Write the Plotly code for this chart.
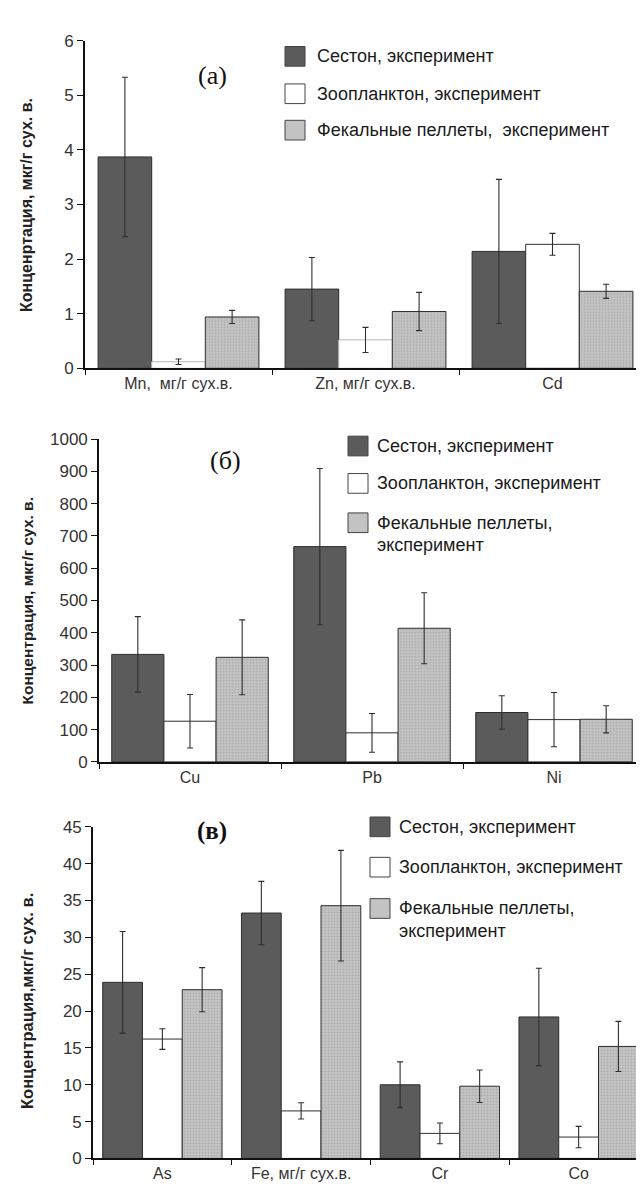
import plotly.graph_objects as go

W, H = 644, 1187

# ---------------- data ----------------
series_names = ["Сестон, эксперимент", "Зоопланктон, эксперимент", "Фекальные пеллеты,  эксперимент"]

cats_a = ["Mn,  мг/г сух.в.", "Zn, мг/г сух.в.", "Cd"]
seston_a = [3.87, 1.45, 2.14]
seston_a_err = [1.46, 0.58, 1.32]
zoo_a = [0.12, 0.52, 2.27]
zoo_a_err = [0.05, 0.23, 0.20]
fec_a = [0.94, 1.04, 1.41]
fec_a_err = [0.12, 0.35, 0.13]

cats_b = ["Cu", "Pb", "Ni"]
seston_b = [333, 667, 153]
seston_b_err = [117, 242, 52]
zoo_b = [126, 90, 131]
zoo_b_err = [83, 60, 84]
fec_b = [324, 414, 132]
fec_b_err = [116, 110, 42]

cats_c = ["As", "Fe, мг/г сух.в.", "Cr", "Co"]
seston_c = [23.9, 33.3, 10.0, 19.2]
seston_c_err = [6.9, 4.3, 3.1, 6.6]
zoo_c = [16.2, 6.45, 3.4, 2.9]
zoo_c_err = [1.4, 1.1, 1.4, 1.45]
fec_c = [22.9, 34.3, 9.8, 15.2]
fec_c_err = [3.0, 7.5, 2.2, 3.4]

ytitle_a = "Конценртация, мкг/г сух. в."
ytitle_b = "Концентрация, мкг/г сух. в."
ytitle_c = "Концентрация,мкг/г сух. в."
panel_titles = ["(а)", "(б)", "(в)"]

# ---------------- styles ----------------
DARK = "#5b5b5b"
LINE = "#2e2e2e"
FEC = "#c3c3c3"
SANS = "Liberation Sans, Arial, sans-serif"
SERIF = "Liberation Serif, Times New Roman, serif"


def px(x):
    return x / W


def py(y):
    return 1 - y / H


fig = go.Figure()


def add_panel(idx, cats, s, se, z, ze, f, fe, zoo_line=None):
    xa = "x" if idx == 1 else f"x{idx}"
    ya = "y" if idx == 1 else f"y{idx}"
    err = dict(type="data", visible=True, color=LINE, thickness=1.1, width=3)
    fig.add_trace(go.Bar(x=cats, y=s, xaxis=xa, yaxis=ya, showlegend=False,
                         marker=dict(color=DARK, line=dict(color=LINE, width=1)),
                         error_y=dict(array=se, **err)))
    fig.add_trace(go.Bar(x=cats, y=z, xaxis=xa, yaxis=ya, showlegend=False,
                         marker=dict(color="white",
                                     line=dict(color=zoo_line if zoo_line else LINE, width=1)),
                         error_y=dict(array=ze, **err)))
    fig.add_trace(go.Bar(x=cats, y=f, xaxis=xa, yaxis=ya, showlegend=False,
                         marker=dict(color=FEC, line=dict(color=LINE, width=1),
                                     pattern=dict(shape=".", fgcolor="#8f8f8f", bgcolor=FEC,
                                                  size=3, solidity=0.25)),
                         error_y=dict(array=fe, **err)))


add_panel(1, cats_a, seston_a, seston_a_err, zoo_a, zoo_a_err, fec_a, fec_a_err,
          zoo_line=["#b8b8b8", "#b8b8b8", LINE])
add_panel(2, cats_b, seston_b, seston_b_err, zoo_b, zoo_b_err, fec_b, fec_b_err)
add_panel(3, cats_c, seston_c, seston_c_err, zoo_c, zoo_c_err, fec_c, fec_c_err)

# axes geometry (pixels)
panels = [
    dict(x0=77, x1=638, y0=24, y1=357, rng=[0, 6], dtick=1),
    dict(x0=91, x1=637, y0=429, y1=757, rng=[0, 1000], dtick=100),
    dict(x0=85, x1=640, y0=823, y1=1160, rng=[0, 45], dtick=5),
]

layout_axes = {}
for i, p in enumerate(panels, start=1):
    xk = "xaxis" if i == 1 else f"xaxis{i}"
    yk = "yaxis" if i == 1 else f"yaxis{i}"
    ya = "y" if i == 1 else f"y{i}"
    xa = "x" if i == 1 else f"x{i}"
    layout_axes[xk] = dict(domain=[px(p["x0"]), px(p["x1"])], anchor=ya,
                           showline=True, linecolor="#111", linewidth=1.6,
                           ticks="outside", tickson="boundaries", ticklen=5,
                           tickcolor="#111", tickwidth=1.3,
                           showgrid=False, zeroline=False,
                           tickfont=dict(size=16, color="#333", family=SANS))
    layout_axes[yk] = dict(domain=[py(p["y1"]), py(p["y0"])], anchor=xa,
                           range=p["rng"], dtick=p["dtick"],
                           showline=True, linecolor="#111", linewidth=1.6,
                           ticks="outside", ticklen=6, tickcolor="#111", tickwidth=1.3,
                           showgrid=False, zeroline=False,
                           tickfont=dict(size=17, color="#333", family=SANS))

fig.update_layout(**layout_axes)

annotations = []
shapes = []

# y-axis titles
for txt, yc, size in [(ytitle_a, 191, 16), (ytitle_b, 594, 15.5), (ytitle_c, 1000, 16.5)]:
    annotations.append(dict(x=px(19), y=py(yc), xref="paper", yref="paper", text=txt,
                            textangle=-90, showarrow=False, xanchor="center", yanchor="middle",
                            font=dict(size=size, color="#222", family=SANS, weight="bold")))

# panel titles
annotations.append(dict(x=px(188), y=py(43), xref="paper", yref="paper", text=panel_titles[0],
                        showarrow=False, font=dict(size=26, color="#111", family=SERIF)))
annotations.append(dict(x=px(200), y=py(451), xref="paper", yref="paper", text=panel_titles[1],
                        showarrow=False, font=dict(size=26, color="#111", family=SERIF)))
annotations.append(dict(x=px(187), y=py(843), xref="paper", yref="paper", text=panel_titles[2],
                        showarrow=False, font=dict(size=25, color="#111", family=SERIF, weight="bold")))

# legends (swatch + text)
fills = [DARK, "white", FEC]
legend_specs = [
    dict(sx=277, tx=307, ys=[40, 78, 115], two_line=False),
    dict(sx=340, tx=367, ys=[436, 474, 514], two_line=True),
    dict(sx=362, tx=389, ys=[823, 864, 906], two_line=True),
]
for spec in legend_specs:
    for k, yc in enumerate(spec["ys"]):
        shapes.append(dict(type="rect", xref="paper", yref="paper",
                           x0=px(spec["sx"]), x1=px(spec["sx"] + 20),
                           y0=py(yc + 10), y1=py(yc - 10),
                           fillcolor=fills[k], line=dict(color="#444", width=1)))
        if k == 2 and spec["two_line"]:
            parts = ["Фекальные пеллеты,", "эксперимент"]
            for j, t in enumerate(parts):
                annotations.append(dict(x=px(spec["tx"]), y=py(yc + j * 23), xref="paper", yref="paper",
                                        text=t, showarrow=False, xanchor="left", yanchor="middle",
                                        font=dict(size=18, color="#1a1a1a", family=SANS)))
        else:
            annotations.append(dict(x=px(spec["tx"]), y=py(yc), xref="paper", yref="paper",
                                    text=series_names[k], showarrow=False, xanchor="left",
                                    yanchor="middle",
                                    font=dict(size=18, color="#1a1a1a", family=SANS)))

fig.update_layout(
    width=W, height=H, margin=dict(l=0, r=0, t=0, b=0),
    paper_bgcolor="white", plot_bgcolor="white",
    barmode="group", bargap=0.14, bargroupgap=0,
    font=dict(family=SANS, color="#222"),
    annotations=annotations, shapes=shapes, showlegend=False,
)

fig.write_html("out.html")
